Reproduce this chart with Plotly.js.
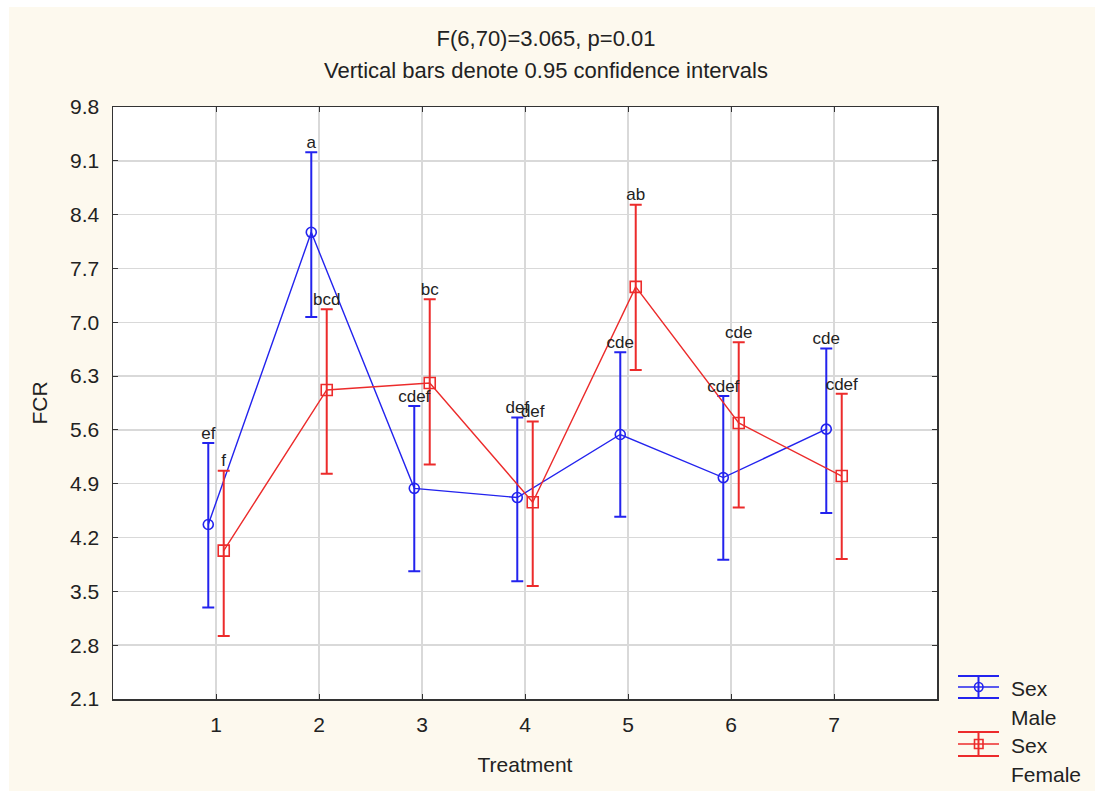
<!DOCTYPE html>
<html>
<head>
<meta charset="utf-8">
<script src="https://cdn.plot.ly/plotly-3.0.1.min.js"></script>
<style>
html,body{margin:0;padding:0;background:#ffffff;}
#chart{position:absolute;left:9px;top:7px;width:1086px;height:784px;}
</style>
</head>
<body>
<div id="chart"></div>
<script>
// Data
const treatments = [1, 2, 3, 4, 5, 6, 7];
const maleMean  = [4.37, 8.17, 4.84, 4.72, 5.54, 4.98, 5.61];
const maleLow   = [3.29, 7.07, 3.76, 3.63, 4.47, 3.91, 4.52];
const maleHigh  = [5.43, 9.21, 5.91, 5.76, 6.61, 6.04, 6.66];
const maleLetters = ["ef", "a", "cdef", "def", "cde", "cdef", "cde"];
const femaleMean  = [4.03, 6.12, 6.21, 4.66, 7.46, 5.69, 5.00];
const femaleLow   = [2.92, 5.03, 5.15, 3.57, 6.38, 4.59, 3.92];
const femaleHigh  = [5.07, 7.17, 7.30, 5.71, 8.53, 6.74, 6.07];
const femaleLetters = ["f", "bcd", "bc", "def", "ab", "cde", "cdef"];
const yTicks = [2.1, 2.8, 3.5, 4.2, 4.9, 5.6, 6.3, 7.0, 7.7, 8.4, 9.1, 9.8];
const yTickText = ["2.1", "2.8", "3.5", "4.2", "4.9", "5.6", "6.3", "7.0", "7.7", "8.4", "9.1", "9.8"];
const seriesNames = [["Sex", "Male"], ["Sex", "Female"]];

const blue = '#2323ee';
const red = '#ec2b2b';
const off = 0.075;
const font = 'Liberation Sans, Arial, sans-serif';
const txt = '#222';

const xm = treatments.map(t => t - off);
const xf = treatments.map(t => t + off);

const traces = [
  {
    x: xm, y: maleMean, type: 'scatter', mode: 'lines+markers', name: seriesNames[0].join(' '),
    line: {color: blue, width: 1.4},
    marker: {symbol: 'circle-open', size: 10, color: blue, line: {width: 1.6, color: blue}},
    error_y: {type: 'data', symmetric: false,
      array: maleHigh.map((h, i) => h - maleMean[i]),
      arrayminus: maleMean.map((m, i) => m - maleLow[i]),
      color: blue, thickness: 2, width: 6},
    showlegend: false
  },
  {
    x: xf, y: femaleMean, type: 'scatter', mode: 'lines+markers', name: seriesNames[1].join(' '),
    line: {color: red, width: 1.4},
    marker: {symbol: 'square-open', size: 11, color: red, line: {width: 1.6, color: red}},
    error_y: {type: 'data', symmetric: false,
      array: femaleHigh.map((h, i) => h - femaleMean[i]),
      arrayminus: femaleMean.map((m, i) => m - femaleLow[i]),
      color: red, thickness: 2, width: 6},
    showlegend: false
  },
  {
    x: xm, y: maleHigh, type: 'scatter', mode: 'text', text: maleLetters,
    textposition: 'top center', textfont: {family: font, size: 17, color: txt},
    showlegend: false, hoverinfo: 'skip'
  },
  {
    x: xf, y: femaleHigh, type: 'scatter', mode: 'text', text: femaleLetters,
    textposition: 'top center', textfont: {family: font, size: 17, color: txt},
    showlegend: false, hoverinfo: 'skip'
  }
];

// plot area in page pixels: x 113..937, y 107..699
const PX = px => (px - 113) / 824;
const PY = py => (699 - py) / 592;

// manual legend (symbol with error-bar caps + two-line label)
const legendItems = [
  {color: blue, symbol: 'circle', top: 676, mid: 687, bot: 698, l1: 688, l2: 717, names: seriesNames[0]},
  {color: red, symbol: 'square', top: 732, mid: 744, bot: 756, l1: 745, l2: 774, names: seriesNames[1]}
];
const shapes = [];
const annotations = [
  {text: 'Vertical bars denote 0.95 confidence intervals', xref: 'paper', yref: 'paper',
   x: 0.5255, y: 1.0, yshift: 37, xanchor: 'center', yanchor: 'middle', showarrow: false,
   font: {family: font, size: 22, color: txt}}
];
legendItems.forEach(it => {
  const x0 = PX(958), x1 = PX(999), xc = PX(978.5);
  [it.top, it.mid, it.bot].forEach((yy, k) => shapes.push({
    type: 'line', xref: 'paper', yref: 'paper', x0: x0, x1: x1, y0: PY(yy), y1: PY(yy),
    line: {color: it.color, width: k === 1 ? 1.4 : 2}
  }));
  shapes.push({type: 'line', xref: 'paper', yref: 'paper', x0: xc, x1: xc, y0: PY(it.top), y1: PY(it.bot),
    line: {color: it.color, width: 2}});
  shapes.push({type: it.symbol === 'circle' ? 'circle' : 'rect', xref: 'paper', yref: 'paper',
    x0: PX(974.5), x1: PX(983), y0: PY(it.mid + 4.5), y1: PY(it.mid - 4.5),
    line: {color: it.color, width: 1.6}, fillcolor: 'rgba(0,0,0,0)'});
  annotations.push({text: it.names[0], xref: 'paper', yref: 'paper', x: PX(1009), y: PY(it.l1),
    xanchor: 'left', yanchor: 'middle', showarrow: false, font: {family: font, size: 21, color: txt}});
  annotations.push({text: it.names[1], xref: 'paper', yref: 'paper', x: PX(1009), y: PY(it.l2),
    xanchor: 'left', yanchor: 'middle', showarrow: false, font: {family: font, size: 21, color: txt}});
});

const layout = {
  width: 1086, height: 784,
  margin: {l: 104, r: 158, t: 100, b: 92},
  paper_bgcolor: '#fdf9ee',
  plot_bgcolor: '#ffffff',
  font: {family: font, size: 21, color: txt},
  title: {text: 'F(6,70)=3.065, p=0.01', x: 0.5255, xref: 'paper', xanchor: 'center',
          y: 0.9605, yref: 'container', yanchor: 'middle', font: {family: font, size: 22, color: txt}},
  annotations: annotations,
  shapes: shapes,
  xaxis: {
    range: [0, 8], tickvals: treatments, ticktext: treatments.map(String),
    showgrid: true, gridcolor: '#d9d9d9', gridwidth: 1.5,
    zeroline: false, showline: true, linecolor: '#333', linewidth: 1.5, mirror: 'ticks',
    ticks: 'inside', ticklen: 5, tickcolor: '#333', ticklabelstandoff: 6,
    tickfont: {family: font, size: 21, color: txt},
    title: {text: 'Treatment', font: {family: font, size: 21, color: txt}, standoff: 22}
  },
  yaxis: {
    range: [2.1, 9.8], tickvals: yTicks, ticktext: yTickText,
    showgrid: true, gridcolor: '#d9d9d9', gridwidth: 1.5,
    zeroline: false, showline: true, linecolor: '#333', linewidth: 1.5, mirror: 'ticks',
    ticks: 'inside', ticklen: 5, tickcolor: '#333', ticklabelstandoff: 8,
    tickfont: {family: font, size: 21, color: txt},
    title: {text: 'FCR', font: {family: font, size: 21, color: txt}, standoff: 16}
  },
  showlegend: false
};

Plotly.newPlot('chart', traces, layout, {displayModeBar: false, staticPlot: true});
</script>
</body>
</html>
